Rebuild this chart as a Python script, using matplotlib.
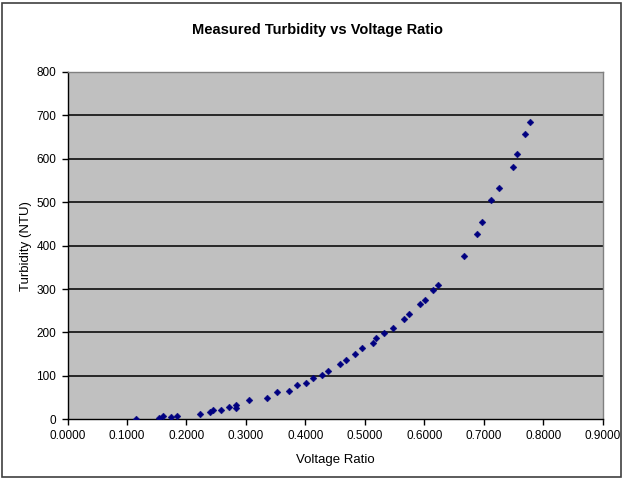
import matplotlib
matplotlib.use("Agg")
import matplotlib.pyplot as plt
from matplotlib.patches import Rectangle
from matplotlib.ticker import FormatStrFormatter

voltage_ratio = [0.1152, 0.1545, 0.1602, 0.1737, 0.1848, 0.2231, 0.2388, 0.2445,
                 0.2585, 0.2708, 0.2838, 0.2838, 0.3057, 0.3356, 0.3524, 0.3723,
                 0.3862, 0.4019, 0.4125, 0.4283, 0.4381, 0.4580, 0.4676, 0.4831,
                 0.4951, 0.5135, 0.5196, 0.5329, 0.5481, 0.5666, 0.5747, 0.5927,
                 0.6017, 0.6152, 0.6236, 0.6661, 0.6885, 0.6975, 0.7121, 0.7256,
                 0.7492, 0.7560, 0.7695, 0.7774]
turbidity = [0.5, 3.7, 7.6, 6.0, 8.3, 12.2, 16.8, 21.4,
             21.4, 29.0, 34.0, 25.3, 44.4, 49.7, 62.1, 66.3,
             78.4, 84.2, 96.2, 101.4, 112.3, 126.5, 136.4, 150.7,
             163.3, 176.2, 187.7, 199.2, 209.6, 231.2, 242.2, 264.5,
             275.6, 298.6, 309.6, 375.7, 427.9, 455.5, 506.1, 532.1,
             581.1, 610.3, 656.3, 683.9]

x_ticks = [0.0, 0.1, 0.2, 0.3, 0.4, 0.5, 0.6, 0.7, 0.8, 0.9]
y_ticks = [0, 100, 200, 300, 400, 500, 600, 700, 800]

plt.rcParams['font.family'] = ['Liberation Sans', 'DejaVu Sans']

W, H = 625, 480
fig = plt.figure(figsize=(W / 100, H / 100), dpi=100)
fig.patch.set_facecolor('white')

# outer frame
fig.patches.append(Rectangle((2 / W, 3 / H), 619 / W, 474 / H, transform=fig.transFigure,
                             fill=False, edgecolor='#404040', linewidth=1.2))

left, right = 67.5 / W, 602.7 / W
bottom, top = (H - 419.3) / H, (H - 72) / H
ax = fig.add_axes([left, bottom, right - left, top - bottom])
ax.set_facecolor('#C0C0C0')

ax.set_xlim(0, 0.9)
ax.set_ylim(0, 800)
ax.set_xticks(x_ticks)
ax.set_yticks(y_ticks)
ax.xaxis.set_major_formatter(FormatStrFormatter('%.4f'))

for v in y_ticks[1:]:
    ax.axhline(v, color='#1a1a1a', linewidth=1.3, zorder=1)

ax.scatter(voltage_ratio, turbidity, marker='D', s=12, color='#000080',
           edgecolors='#000080', linewidths=0.3, zorder=3)

for s in ['top', 'right']:
    ax.spines[s].set_color('#808080')
    ax.spines[s].set_linewidth(1.0)
for s in ['left', 'bottom']:
    ax.spines[s].set_color('black')
    ax.spines[s].set_linewidth(1.0)

ax.tick_params(axis='both', direction='out', length=4, width=1, labelsize=8.5,
               colors='black', pad=4)

ax.set_xlabel('Voltage Ratio', fontsize=9.5, labelpad=8)
ax.set_ylabel('Turbidity (NTU)', fontsize=9.5, labelpad=3)

fig.text(317 / W, (H - 30) / H, 'Measured Turbidity vs Voltage Ratio',
         ha='center', va='center', fontsize=10.5, fontweight='bold')

fig.savefig('out.png', dpi=100)
